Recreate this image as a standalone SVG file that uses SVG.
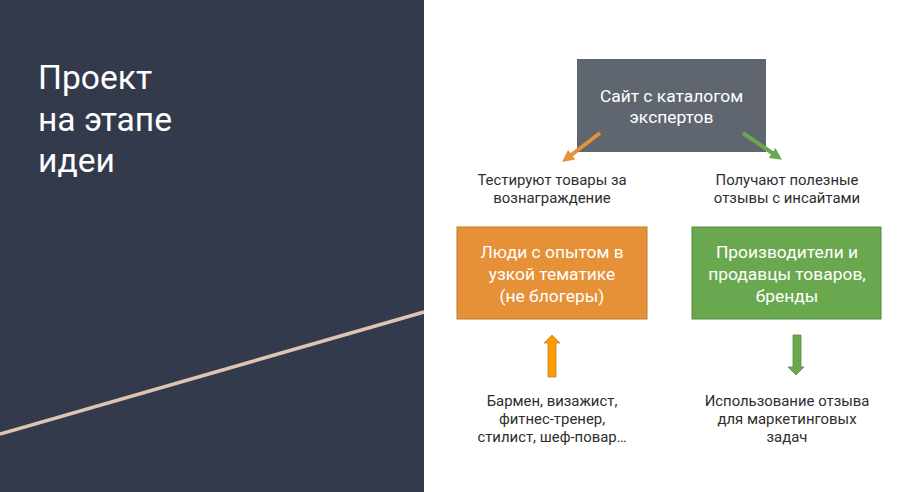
<svg xmlns="http://www.w3.org/2000/svg" width="898" height="492" viewBox="0 0 898 492">
<style>
.lbl{font-family:Roboto,"Liberation Sans",sans-serif;font-size:14.9px;fill:#2e2e2e;text-anchor:middle}
.box{font-family:Roboto,"Liberation Sans",sans-serif;font-size:17.4px;fill:#ffffff;text-anchor:middle}
.title{font-family:Roboto,"Liberation Sans",sans-serif;font-size:33.6px;fill:#ffffff}
</style>
<defs>
<marker id="hO" viewBox="0 0 10 10" refX="6" refY="5" markerWidth="3" markerHeight="3" orient="auto"><path d="M0,0 L10,5 L0,10 z" fill="#e69138"/></marker>
<marker id="hG" viewBox="0 0 10 10" refX="6" refY="5" markerWidth="3" markerHeight="3" orient="auto"><path d="M0,0 L10,5 L0,10 z" fill="#6aa84f"/></marker>
</defs>
<rect x="0" y="0" width="898" height="492" fill="#ffffff"/>
<rect x="0" y="0" width="424" height="492" fill="#333a4c"/>
<line x1="0" y1="434" x2="424" y2="312" stroke="#dcc6b3" stroke-width="3.5"/>
<g id="title">
<text class="title" x="38" y="89">Проект</text>
<text class="title" x="38" y="131">на этапе</text>
<text class="title" x="38" y="172">идеи</text>
</g>
<g id="site">
<rect x="577" y="59" width="189" height="93" fill="#5f6670"/>
<text class="box" x="671.5" y="102">Сайт с каталогом</text>
<text class="box" x="671.5" y="123">экспертов</text>
</g>
<g id="people">
<rect x="457" y="227" width="190" height="92" fill="#e69138" stroke="#c0782c" stroke-width="1"/>
<text class="box" x="552" y="258">Люди с опытом в</text>
<text class="box" x="552" y="280">узкой тематике</text>
<text class="box" x="552" y="302">(не блогеры)</text>
</g>
<g id="brands">
<rect x="692" y="227" width="189" height="92" fill="#6aa84f" stroke="#558a3f" stroke-width="1"/>
<text class="box" x="787" y="258">Производители и</text>
<text class="box" x="787" y="280">продавцы товаров,</text>
<text class="box" x="787" y="302">бренды</text>
</g>
<g id="labels">
<text class="lbl" x="552" y="185">Тестируют товары за</text>
<text class="lbl" x="552" y="203">вознаграждение</text>
<text class="lbl" x="787" y="185">Получают полезные</text>
<text class="lbl" x="787" y="203">отзывы с инсайтами</text>
<text class="lbl" x="552" y="406">Бармен, визажист,</text>
<text class="lbl" x="552" y="424">фитнес-тренер,</text>
<text class="lbl" x="552" y="442">стилист, шеф-повар…</text>
<text class="lbl" x="787" y="406">Использование отзыва</text>
<text class="lbl" x="787" y="424">для маркетинговых</text>
<text class="lbl" x="787" y="442">задач</text>
</g>
<g id="connectors">
<line x1="600" y1="133" x2="566" y2="159" stroke="#e69138" stroke-width="4" marker-end="url(#hO)"/>
<line x1="743" y1="133" x2="778" y2="157" stroke="#6aa84f" stroke-width="4" marker-end="url(#hG)"/>
<path d="M548,377 L548,343 L544,343 L552,335 L560,343 L556,343 L556,377 Z" fill="#ff9900" stroke="#b8863b" stroke-width="0.8"/>
<path d="M793,335 L793,367 L788,367 L796,375 L804,367 L801,367 L801,335 Z" fill="#6aa84f" stroke="#558a3f" stroke-width="0.8"/>
</g>
</svg>
